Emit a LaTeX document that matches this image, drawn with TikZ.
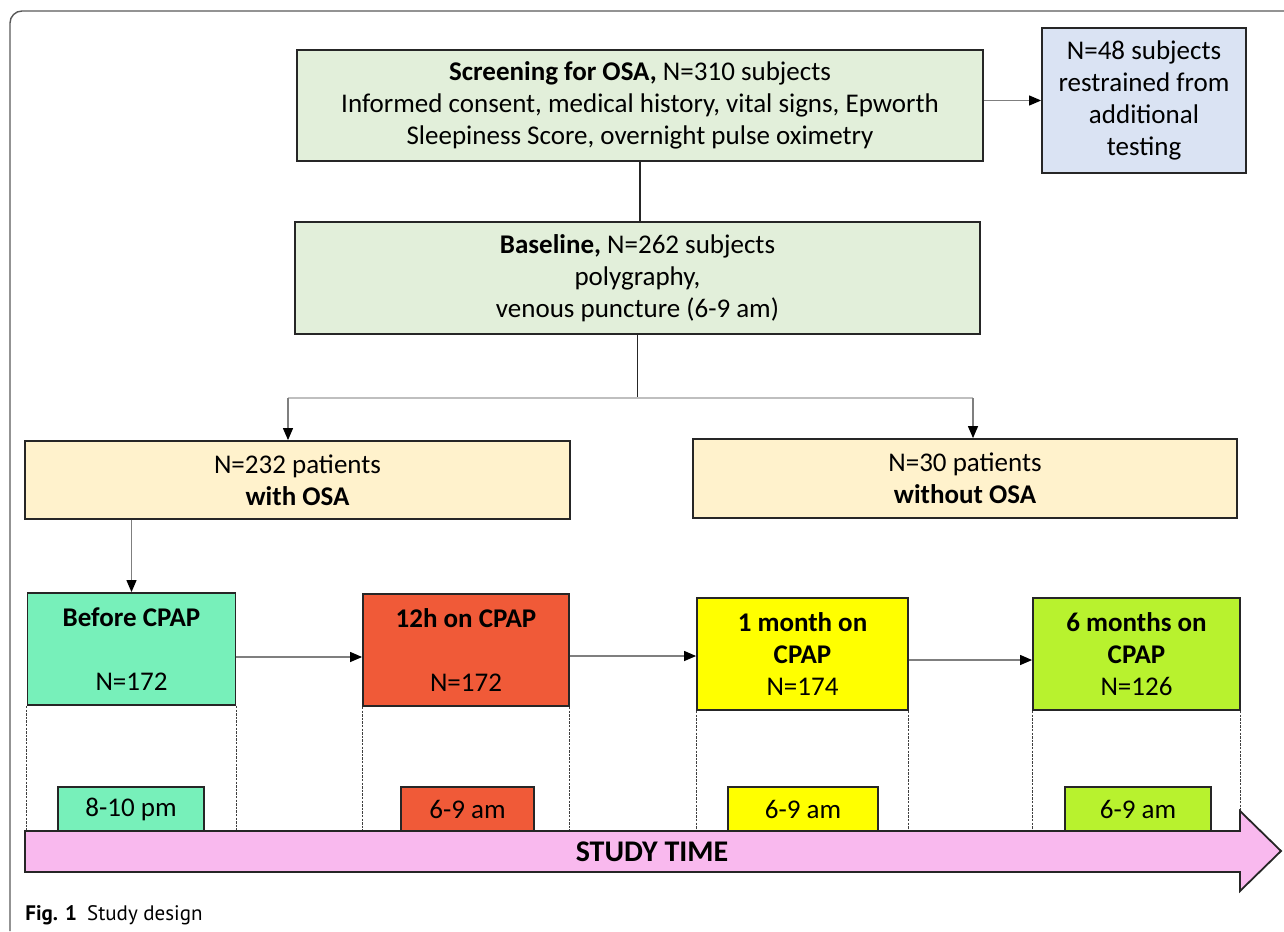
\documentclass[tikz,border=0pt]{standalone}
\usepackage{fontspec}
\setmainfont{Carlito}
\newfontfamily\capfont{PT Sans}
\usepackage{tikz}
\usetikzlibrary{arrows.meta,positioning,calc}
\definecolor{screengreen}{HTML}{E2EFDA}
\definecolor{restrainblue}{HTML}{DAE3F3}
\definecolor{groupcream}{HTML}{FFF2CC}
\definecolor{mintstep}{HTML}{77F0BA}
\definecolor{redstep}{HTML}{F05A38}
\definecolor{yellowstep}{HTML}{FFFF00}
\definecolor{limestep}{HTML}{B8F22E}
\definecolor{timepink}{HTML}{F9B9EE}
\definecolor{edgegray}{HTML}{262626}
\definecolor{linkgray}{HTML}{7F7F7F}
\tikzset{
  flowbox/.style={draw=edgegray,line width=0.9pt,align=center,inner sep=2pt,
    font=\fontsize{13.5}{16}\selectfont},
  stagebox/.style={flowbox,minimum width=104pt,minimum height=56pt},
  clockbox/.style={flowbox,minimum height=22pt},
  flowarrow/.style={-{Triangle[length=6pt,width=5pt,color=black]},draw=linkgray,line width=0.6pt},
  plainlink/.style={draw=edgegray,line width=0.8pt},
  splitlink/.style={draw=black!25,line width=1.3pt},
  guideline/.style={dash pattern=on 1.2pt off 0.6pt,draw=black!75,line width=0.55pt}
}
\begin{document}
\begin{tikzpicture}[x=0.5pt,y=-0.5pt]
  \useasboundingbox (0,0) rectangle (1284,931);
  % frame of the figure
  \draw[black!65,line width=0.7pt,rounded corners=6pt] (10,931) -- (10,11) -- (1284,11);
  % upper part of the flow chart
  \node[flowbox,fill=screengreen,minimum width=343pt,minimum height=55.5pt] (screen) at (640,105.5)
    {\textbf{Screening for OSA,} N=310 subjects\\
     Informed consent, medical history, vital signs, Epworth\\
     Sleepiness Score, overnight pulse oximetry};
  \node[flowbox,fill=restrainblue,minimum width=102pt,minimum height=72.5pt] (restrain) at (1144,100.5)
    {N=48 subjects\\ restrained from\\ additional\\ testing};
  \node[flowbox,fill=screengreen,minimum width=342.5pt,minimum height=56pt] (base) at (637.5,278)
    {\textbf{Baseline,} N=262 subjects\\ polygraphy,\\ venous puncture (6-9 am)};
  \node[flowbox,fill=groupcream,minimum width=272.5pt,minimum height=39pt] (osa) at (297.5,480)
    {N=232 patients\\ \textbf{with OSA}};
  \node[flowbox,fill=groupcream,minimum width=272pt,minimum height=39.5pt] (noosa) at (965,478.5)
    {N=30 patients\\ \textbf{without OSA}};
  \draw[flowarrow] (restrain.west -| screen.east) -- (restrain.west);
  \draw[plainlink] (screen.south) -- (screen.south |- base.north);
  \coordinate (split) at (637.5,398);
  \coordinate (splitL) at (288,398);
  \coordinate (splitR) at (973,398);
  \draw[plainlink] (base.south) -- (split);
  \draw[splitlink] (splitL) -- (splitR);
  \draw[flowarrow] (splitL) -- (splitL |- osa.north);
  \draw[flowarrow] (splitR) -- (splitR |- noosa.north);
  % stages on CPAP
  \node[stagebox,fill=mintstep] (before) at (131.5,649)
    {\textbf{Before CPAP}\\[16pt] N=172};
  \node[stagebox,fill=redstep,minimum width=103pt] (h12) at (466,650)
    {\textbf{12h on CPAP}\\[16pt] N=172};
  \node[stagebox,fill=yellowstep,minimum width=105.5pt] (month1) at (802.5,654)
    {\textbf{1 month on}\\ \textbf{CPAP}\\ N=174};
  \node[stagebox,fill=limestep,minimum width=103.5pt] (month6) at (1136.5,654)
    {\textbf{6 months on}\\ \textbf{CPAP}\\ N=126};
  \draw[flowarrow] (before.north |- osa.south) -- (before.north);
  \draw[flowarrow] ([yshift=-4pt]before.east) -- ([yshift=-4pt]before.east -| h12.west);
  \draw[flowarrow] ([yshift=-3pt]h12.east) -- ([yshift=-3pt]h12.east -| month1.west);
  \draw[flowarrow] ([yshift=-3pt]month1.east) -- ([yshift=-3pt]month1.east -| month6.west);
  % dotted guides down to the time axis
  \coordinate (axistop) at (0,831);
  \foreach \s in {before,h12,month1,month6}{
    \draw[guideline] (\s.south west) -- (\s.south west |- axistop);
    \draw[guideline] (\s.south east) -- (\s.south east |- axistop);
  }
  % sampling times
  \node[clockbox,fill=mintstep,minimum width=73pt] (t1) at (131,809) {8-10 pm};
  \node[clockbox,fill=redstep,minimum width=66.5pt] (t2) at (467.5,809) {6-9 am};
  \node[clockbox,fill=yellowstep,minimum width=75pt] (t3) at (803,809) {6-9 am};
  \node[clockbox,fill=limestep,minimum width=73pt] (t4) at (1138,809) {6-9 am};
  % time axis
  \draw[edgegray,line width=0.9pt,fill=timepink] (25,831) -- (1240,831) -- (1240,811) -- (1281,851)
    -- (1240,891) -- (1240,872) -- (25,872) -- cycle;
  \node[font=\fontsize{15}{18}\selectfont\bfseries] (studytime) at (652,852) {STUDY TIME};
  \node[anchor=base west,inner sep=0pt,font=\capfont\fontsize{10.5}{12}\selectfont] (caption) at (25,920)
    {\textbf{Fig. 1}\hspace{5pt}Study design};
\end{tikzpicture}
\end{document}
